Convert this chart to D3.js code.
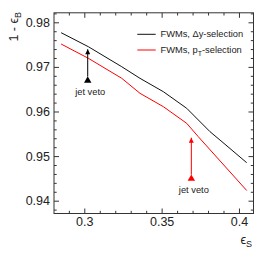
<!DOCTYPE html>
<html>
<head>
<meta charset="utf-8">
<script src="https://cdn.jsdelivr.net/npm/d3@7"></script>
<style>
  body { margin: 0; background: #fff; }
  svg { display: block; font-family: "Liberation Sans", Arial, sans-serif; }
</style>
</head>
<body>
<script>
// signal efficiency vs background rejection
var effSDy  = [0.285, 0.3026, 0.3242, 0.336, 0.3511, 0.3662, 0.3813, 0.3877, 0.405];
var rejBDy  = [0.97767, 0.97453, 0.97004, 0.96744, 0.96444, 0.96072, 0.95547, 0.95361, 0.94852];
var effSPt  = [0.285, 0.3026, 0.3242, 0.336, 0.3511, 0.3662, 0.3737, 0.405];
var rejBPt  = [0.97513, 0.97193, 0.96744, 0.96408, 0.96108, 0.95735, 0.95435, 0.94229];

// jet veto working points: marker position and arrow tip
var vetoX     = [0.3022, 0.3692];
var vetoY     = [0.96695, 0.94493];
var vetoTipY  = [0.97395, 0.95413];
var vetoColor = ["#000", "#ff0000"];

var xTicks = [0.3, 0.35, 0.4];
var xTickLabels = ["0.3", "0.35", "0.4"];
var yTicks = [0.94, 0.95, 0.96, 0.97, 0.98];
var yTickLabels = ["0.94", "0.95", "0.96", "0.97", "0.98"];

var legendNames = ["FWMs, \u0394y-selection", "FWMs, p"];

var W = 268, H = 268;
var L = 54, R = 253.5, T = 12.8, B = 213.5;

var svg = d3.select("body").append("svg")
    .attr("width", W)
    .attr("height", H);

var x = d3.scaleLinear().domain([0.2804, 0.4094]).range([L, R]);
var y = d3.scaleLinear().domain([0.93713, 0.98213]).range([B, T]);

var xMinor = d3.range(0.29, 0.41, 0.01).filter(function(v) {
    return xTicks.every(function(t) { return Math.abs(t - v) > 1e-6; });
});
var yMinor = d3.range(0.938, 0.9821, 0.002).filter(function(v) {
    return yTicks.every(function(t) { return Math.abs(t - v) > 1e-6; });
});

function styleAxis(g) {
    g.select(".domain").remove();
    g.selectAll("line").attr("stroke", "#333");
    g.selectAll("text").attr("fill", "#222").style("font-size", "12.5px");
}

// bottom
svg.append("g").attr("transform", "translate(0," + B + ")")
    .call(d3.axisBottom(x).tickValues(xTicks).tickSize(-5).tickPadding(4)
        .tickFormat(function(d, i) { return xTickLabels[i]; }))
    .call(styleAxis);
svg.append("g").attr("transform", "translate(0," + B + ")")
    .call(d3.axisBottom(x).tickValues(xMinor).tickSize(-2.7).tickFormat(""))
    .call(styleAxis);
// top
svg.append("g").attr("transform", "translate(0," + T + ")")
    .call(d3.axisTop(x).tickValues(xTicks).tickSize(-5).tickFormat(""))
    .call(styleAxis);
svg.append("g").attr("transform", "translate(0," + T + ")")
    .call(d3.axisTop(x).tickValues(xMinor).tickSize(-2.7).tickFormat(""))
    .call(styleAxis);
// left
svg.append("g").attr("transform", "translate(" + L + ",0)")
    .call(d3.axisLeft(y).tickValues(yTicks).tickSize(-5).tickPadding(4)
        .tickFormat(function(d, i) { return yTickLabels[i]; }))
    .call(styleAxis);
svg.append("g").attr("transform", "translate(" + L + ",0)")
    .call(d3.axisLeft(y).tickValues(yMinor).tickSize(-2.7).tickFormat(""))
    .call(styleAxis);
// right
svg.append("g").attr("transform", "translate(" + R + ",0)")
    .call(d3.axisRight(y).tickValues(yTicks).tickSize(-5).tickFormat(""))
    .call(styleAxis);
svg.append("g").attr("transform", "translate(" + R + ",0)")
    .call(d3.axisRight(y).tickValues(yMinor).tickSize(-2.7).tickFormat(""))
    .call(styleAxis);

svg.append("rect")
    .attr("x", L).attr("y", T)
    .attr("width", R - L).attr("height", B - T)
    .attr("fill", "none").attr("stroke", "#333").attr("stroke-width", 1);

var line = d3.line()
    .x(function(d) { return x(d[0]); })
    .y(function(d) { return y(d[1]); });

svg.append("path")
    .datum(d3.zip(effSDy, rejBDy))
    .attr("d", line)
    .attr("fill", "none").attr("stroke", "#111").attr("stroke-width", 1);
svg.append("path")
    .datum(d3.zip(effSPt, rejBPt))
    .attr("d", line)
    .attr("fill", "none").attr("stroke", "#ff0000").attr("stroke-width", 1);

// arrowheads
var defs = svg.append("defs");
vetoColor.forEach(function(c, i) {
    defs.append("marker")
        .attr("id", "head" + i)
        .attr("viewBox", "0 0 10 10")
        .attr("refX", 10).attr("refY", 5)
        .attr("markerWidth", 6).attr("markerHeight", 5)
        .attr("markerUnits", "userSpaceOnUse")
        .attr("orient", "auto")
        .append("path").attr("d", "M0,0L10,5L0,10Z").attr("fill", c);
});

var veto = svg.selectAll(".veto").data(vetoX).enter().append("g").attr("class", "veto");
veto.append("line")
    .attr("x1", function(d) { return x(d); })
    .attr("x2", function(d) { return x(d); })
    .attr("y1", function(d, i) { return y(vetoY[i]) - 4; })
    .attr("y2", function(d, i) { return y(vetoTipY[i]); })
    .attr("stroke", function(d, i) { return vetoColor[i]; })
    .attr("stroke-width", 1)
    .attr("marker-end", function(d, i) { return "url(#head" + i + ")"; });
veto.append("path")
    .attr("transform", function(d, i) { return "translate(" + x(d) + "," + y(vetoY[i]) + ")"; })
    .attr("d", d3.symbol().type(d3.symbolTriangle).size(24))
    .attr("fill", function(d, i) { return vetoColor[i]; });
veto.append("text")
    .attr("x", function(d) { return x(d) + 2.5; })
    .attr("y", function(d, i) { return y(vetoY[i]) + 14.5; })
    .attr("text-anchor", "middle")
    .style("font-size", "9.3px")
    .attr("fill", "#222")
    .text("jet veto");

// legend
var legColors = ["#111", "#ff0000"];
var legY = [34.3, 50];
legColors.forEach(function(c, i) {
    svg.append("line")
        .attr("x1", 137.3).attr("x2", 155.7)
        .attr("y1", legY[i]).attr("y2", legY[i])
        .attr("stroke", c).attr("stroke-width", 1);
    var t = svg.append("text")
        .attr("x", 160.5).attr("y", legY[i] + 3)
        .style("font-size", "9.3px").attr("fill", "#222")
        .text(legendNames[i]);
    if (i === 1) {
        t.append("tspan").attr("dy", 2.5).style("font-size", "7px").text("T");
        t.append("tspan").attr("dy", -2.5).text("-selection");
    }
});

// axis titles
var yt = svg.append("text")
    .attr("transform", "translate(17.5,12) rotate(-90)")
    .attr("text-anchor", "end")
    .style("font-size", "12.5px").attr("fill", "#222")
    .text("1 - \u03f5");
yt.append("tspan").attr("dy", 3).style("font-size", "9px").text("B");

var xt = svg.append("text")
    .attr("x", 252).attr("y", 244)
    .attr("text-anchor", "end")
    .style("font-size", "12.5px").attr("fill", "#222")
    .text("\u03f5");
xt.append("tspan").attr("dy", 3).style("font-size", "9px").text("S");
</script>
</body>
</html>
